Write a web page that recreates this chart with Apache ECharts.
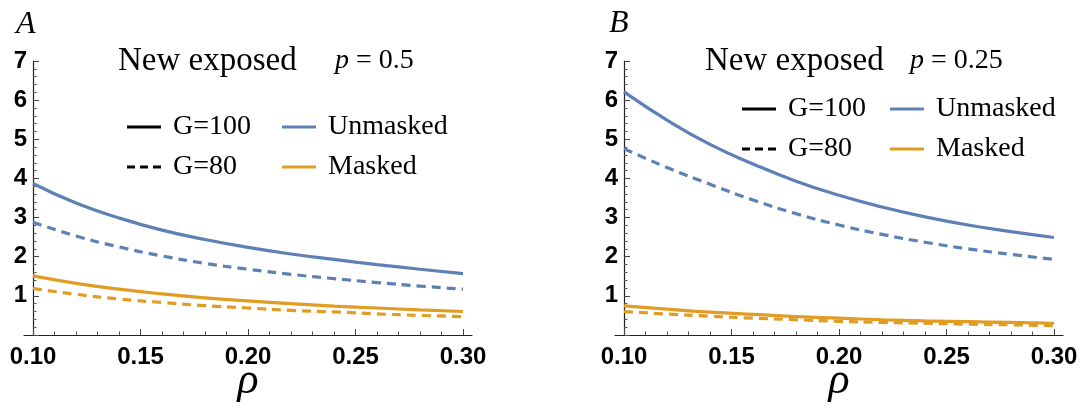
<!DOCTYPE html>
<html>
<head>
<meta charset="utf-8">
<script src="https://cdn.jsdelivr.net/npm/echarts@6/dist/echarts.min.js"></script>
<style>
html,body{margin:0;padding:0;background:#fff;}
#chart{width:1083px;height:408px;}
</style>
</head>
<body>
<div id="chart"></div>
<script>
// ---- data ----
const rho = [0.10, 0.12, 0.14, 0.16, 0.18, 0.20, 0.22, 0.24, 0.26, 0.28, 0.30];

// Panel A (p = 0.5)
const A_unmasked_G100 = [3.87, 3.37, 2.99, 2.68, 2.44, 2.24, 2.07, 1.93, 1.80, 1.68, 1.57];
const A_unmasked_G80  = [2.88, 2.53, 2.25, 2.02, 1.83, 1.68, 1.55, 1.44, 1.34, 1.25, 1.17];
const A_masked_G100   = [1.51, 1.32, 1.17, 1.05, 0.95, 0.87, 0.80, 0.74, 0.69, 0.64, 0.60];
const A_masked_G80    = [1.19, 1.04, 0.92, 0.83, 0.75, 0.69, 0.63, 0.59, 0.54, 0.50, 0.47];

// Panel B (p = 0.25)
const B_unmasked_G100 = [6.21, 5.49, 4.87, 4.37, 3.93, 3.57, 3.27, 3.02, 2.81, 2.64, 2.49];
const B_unmasked_G80  = [4.76, 4.28, 3.85, 3.45, 3.10, 2.81, 2.57, 2.37, 2.20, 2.06, 1.93];
const B_masked_G100   = [0.745, 0.66, 0.585, 0.525, 0.47, 0.43, 0.39, 0.36, 0.34, 0.32, 0.30];
const B_masked_G80    = [0.60, 0.535, 0.48, 0.43, 0.39, 0.35, 0.32, 0.30, 0.275, 0.26, 0.24];

const xMajorTicks = [0.10, 0.15, 0.20, 0.25, 0.30];
const xMinorTicks = [0.11, 0.12, 0.13, 0.14, 0.16, 0.17, 0.18, 0.19, 0.21, 0.22, 0.23, 0.24, 0.26, 0.27, 0.28, 0.29];
const yTickLabels = ['1', '2', '3', '4', '5', '6', '7'];
const panelLetters = ['A', 'B'];
const panelP = ['0.5', '0.25'];
const legendG = ['G=100', 'G=80'];
const legendMask = ['Unmasked', 'Masked'];

// ---- styling / layout ----
const BLUE = '#5E81B5';
const ORANGE = '#E19C24';
const DASH = [9, 6];
const SANS = '"Liberation Sans", Arial, sans-serif';
const SERIF = '"Liberation Serif", "Times New Roman", serif';
const ICON_SOLID = 'path://M0,0h34v3h-34z';
const ICON_DASH = 'path://M0,0h8v3h-8z M13,0h8v3h-8z M26,0h8v3h-8z';

const xMin = 0.10, xMax = 0.30;
const extPx = 9, plotW = 430;
const ext = (xMax - xMin) * extPx / plotW;

const grids = [
  { left: 33 - extPx, top: 61, width: plotW + 2 * extPx, height: 274 },
  { left: 624 - extPx, top: 61, width: plotW + 2 * extPx, height: 274 }
];

function pairs(arr) { return rho.map((r, i) => [r, arr[i]]); }

const xAxes = [], yAxes = [], series = [];
grids.forEach((g, gi) => {
  xAxes.push({
    gridIndex: gi, type: 'value', position: 'bottom',
    min: xMin - ext, max: xMax + ext,
    axisLine: { show: true, onZero: false, lineStyle: { color: '#222', width: 1.2 } },
    axisTick: { show: true, inside: true, length: 6, customValues: xMajorTicks, lineStyle: { color: '#444', width: 1 } },
    axisLabel: { show: true, customValues: xMajorTicks, formatter: v => v.toFixed(2),
      fontFamily: SANS, fontWeight: 'bold', fontSize: 24, color: '#000', margin: 10 },
    splitLine: { show: false },
    name: 'ρ', nameLocation: 'middle', nameGap: 24, nameMoveOverlap: false,
    nameTextStyle: { fontFamily: SERIF, fontStyle: 'italic', fontSize: 44, color: '#000' }
  });
  xAxes.push({
    gridIndex: gi, type: 'value', position: 'bottom', offset: 0,
    min: xMin - ext, max: xMax + ext,
    axisLine: { show: false, onZero: false },
    axisTick: { show: true, inside: true, length: 3.5, customValues: xMinorTicks, lineStyle: { color: '#555', width: 1 } },
    axisLabel: { show: false },
    splitLine: { show: false }
  });
  yAxes.push({
    gridIndex: gi, type: 'value', min: 0, max: 7, interval: 1, offset: -extPx,
    axisLine: { show: true, onZero: false, lineStyle: { color: '#222', width: 1.2 } },
    axisTick: { show: true, inside: true, length: 6, lineStyle: { color: '#444', width: 1 } },
    minorTick: { show: true, splitNumber: 5, length: 3.5, lineStyle: { color: '#555', width: 1 } },
    axisLabel: { formatter: v => (v === 0 ? '' : yTickLabels[v - 1]),
      fontFamily: SANS, fontWeight: 'bold', fontSize: 24, color: '#000', margin: 6 },
    splitLine: { show: false }, minorSplitLine: { show: false }
  });
});

function curve(name, data, gi, color, dashed) {
  return {
    type: 'line', name: name, xAxisIndex: gi * 2, yAxisIndex: gi,
    data: pairs(data), smooth: true, symbol: 'none', silent: true,
    lineStyle: { color: color, width: 3.2, type: dashed ? DASH : 'solid' },
    itemStyle: { color: color }
  };
}

series.push(curve('A_u100', A_unmasked_G100, 0, BLUE, false));
series.push(curve('A_u80', A_unmasked_G80, 0, BLUE, true));
series.push(curve('A_m100', A_masked_G100, 0, ORANGE, false));
series.push(curve('A_m80', A_masked_G80, 0, ORANGE, true));
series.push(curve('B_u100', B_unmasked_G100, 1, BLUE, false));
series.push(curve('B_u80', B_unmasked_G80, 1, BLUE, true));
series.push(curve('B_m100', B_masked_G100, 1, ORANGE, false));
series.push(curve('B_m80', B_masked_G80, 1, ORANGE, true));

// legend-only series
function legendSeries(name, color) {
  return { type: 'line', name: name, xAxisIndex: 0, yAxisIndex: 0, data: [], symbol: 'none',
    color: color, lineStyle: { color: color, width: 3 }, itemStyle: { color: color } };
}
series.push(legendSeries(legendG[0], '#000'));
series.push(legendSeries(legendG[1], '#000'));
series.push(legendSeries(legendMask[0], BLUE));
series.push(legendSeries(legendMask[1], ORANGE));

const gItems = [{ name: legendG[0], icon: ICON_SOLID }, { name: legendG[1], icon: ICON_DASH }];
const mItems = [{ name: legendMask[0], icon: ICON_SOLID }, { name: legendMask[1], icon: ICON_SOLID }];

const legendBase = {
  orient: 'vertical', selectedMode: false, itemWidth: 34, itemHeight: 3, padding: 0,
  itemStyle: { borderWidth: 0 },
  lineStyle: { width: 0 },
  textStyle: { fontFamily: SERIF, fontSize: 28, color: '#000', lineHeight: 30, padding: [0, 0, 0, 7] }
};
const legends = [
  Object.assign({}, legendBase, { data: gItems, left: 127, top: 112, itemGap: 10 }),
  Object.assign({}, legendBase, { data: mItems, left: 282, top: 112, itemGap: 10 }),
  Object.assign({}, legendBase, { data: gItems, left: 742, top: 94, itemGap: 10 }),
  Object.assign({}, legendBase, { data: mItems, left: 890, top: 94, itemGap: 10 })
];

const titleText = { fontFamily: SERIF, fontSize: 33, fontWeight: 'normal', color: '#000' };
const mathRich = {
  i: { fontFamily: SERIF, fontStyle: 'italic', fontWeight: 'normal', fontSize: 28, color: '#000' },
  n: { fontFamily: SERIF, fontWeight: 'normal', fontSize: 28, color: '#000' }
};
const letterStyle = { fontFamily: SERIF, fontStyle: 'italic', fontSize: 32, fontWeight: 'normal', color: '#000' };
const titles = [
  { text: panelLetters[0], left: 11, top: 4, textStyle: letterStyle },
  { text: panelLetters[1], left: 604, top: 3, textStyle: letterStyle },
  { text: 'New exposed', left: 113, top: 40, textStyle: titleText },
  { text: '{i|p}{n| = ' + panelP[0] + '}', left: 330, top: 42, textStyle: { fontWeight: 'normal', rich: mathRich } },
  { text: 'New exposed', left: 700, top: 40, textStyle: titleText },
  { text: '{i|p}{n| = ' + panelP[1] + '}', left: 905, top: 42, textStyle: { fontWeight: 'normal', rich: mathRich } }
];

const chart = echarts.init(document.getElementById('chart'), null, { renderer: 'canvas' });
chart.setOption({
  backgroundColor: '#fff',
  animation: false,
  title: titles,
  legend: legends,
  grid: grids.map(g => Object.assign({ outerBoundsMode: 'none', containLabel: false }, g)),
  xAxis: xAxes,
  yAxis: yAxes,
  series: series
});
</script>
</body>
</html>
